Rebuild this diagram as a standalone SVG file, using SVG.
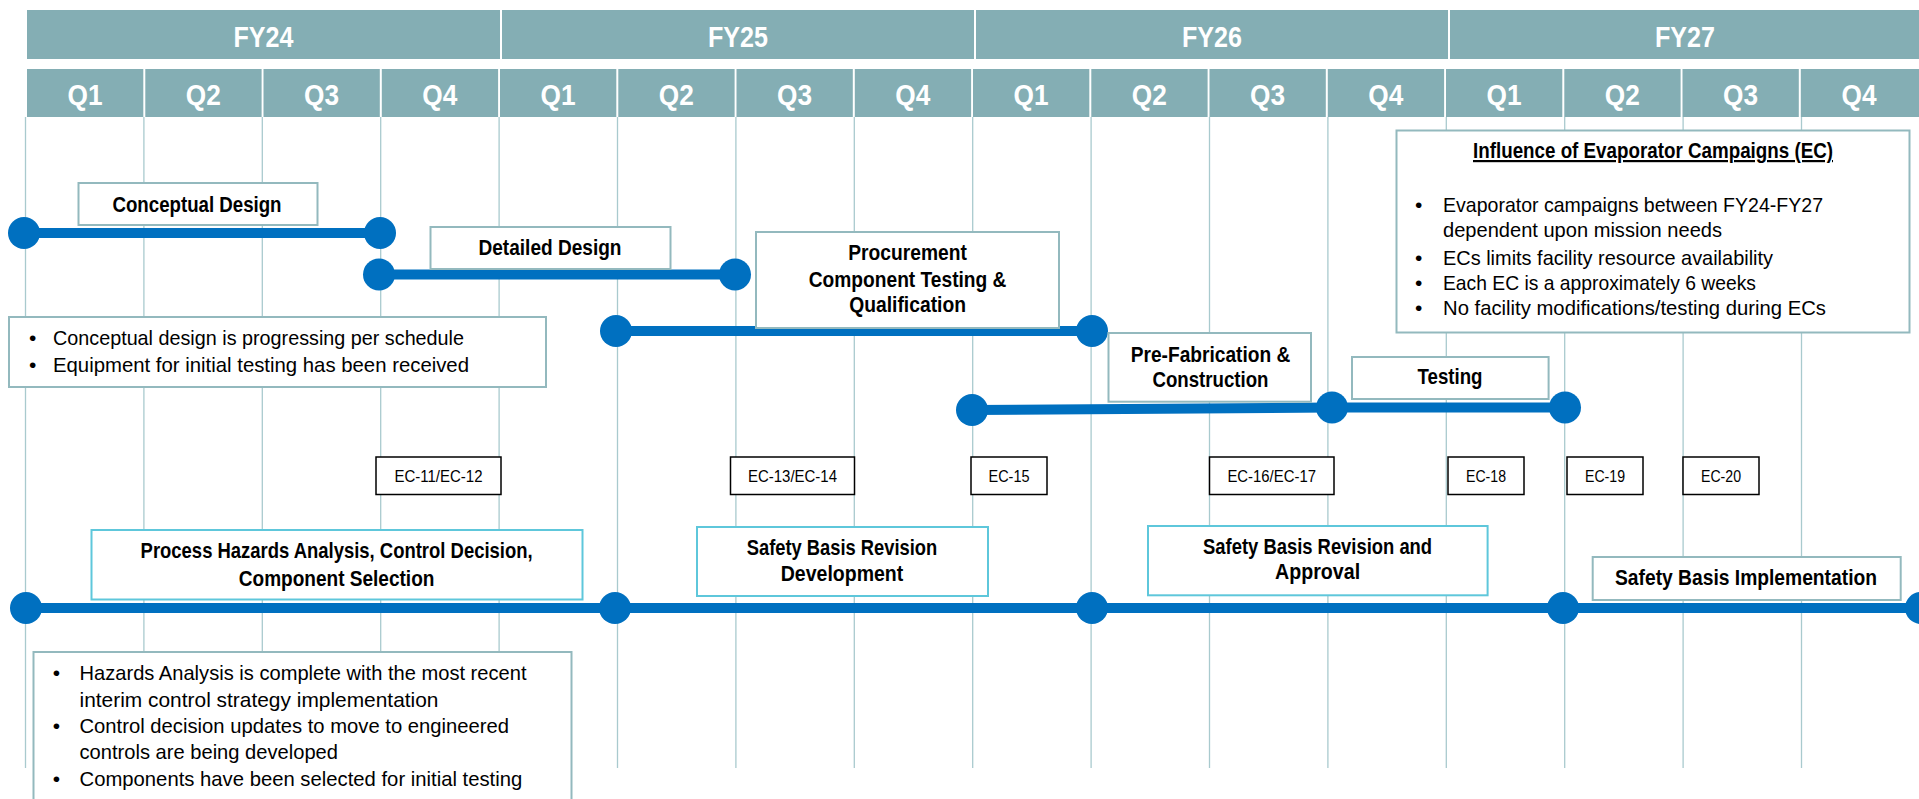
<svg xmlns="http://www.w3.org/2000/svg" width="1919" height="799" viewBox="0 0 1919 799">
  <style>
    .hdr { fill: #84AEB4; }
    .fy { font-family: "Liberation Sans", Arial, sans-serif; font-weight: bold; font-size: 29px; fill: #ffffff; text-anchor: middle; }
    .q { font-family: "Liberation Sans", Arial, sans-serif; font-weight: bold; font-size: 29px; fill: #ffffff; text-anchor: middle; }
    .grid line { stroke: #A9CACE; stroke-width: 1.3; }
    .bar { stroke: #0070C0; stroke-width: 10; fill: none; }
    .dot { fill: #0070C0; }
    .box { fill: #ffffff; stroke: #93B9BE; stroke-width: 2; }
    .sbox { fill: #ffffff; stroke: #5EC7DB; stroke-width: 2; }
    .ec { fill: #ffffff; stroke: #000000; stroke-width: 1.5; }
    .lbl { font-family: "Liberation Sans", Arial, sans-serif; font-weight: bold; font-size: 22px; fill: #000000; text-anchor: middle; }
    .txt { font-family: "Liberation Sans", Arial, sans-serif; font-size: 21px; fill: #000000; }
    .ect { font-family: "Liberation Sans", Arial, sans-serif; font-size: 16px; fill: #000000; text-anchor: middle; }
  </style>

  <rect width="1919" height="799" fill="#ffffff"/>

  <!-- Fiscal year / quarter header -->
  <g id="header">
    <rect class="hdr" x="27" y="10" width="473" height="49"/>
    <rect class="hdr" x="502" y="10" width="472" height="49"/>
    <rect class="hdr" x="976" y="10" width="472" height="49"/>
    <rect class="hdr" x="1450" y="10" width="469" height="49"/>
    <text class="fy" x="263.5" y="47" textLength="60" lengthAdjust="spacingAndGlyphs">FY24</text>
    <text class="fy" x="738" y="47" textLength="60" lengthAdjust="spacingAndGlyphs">FY25</text>
    <text class="fy" x="1212" y="47" textLength="60" lengthAdjust="spacingAndGlyphs">FY26</text>
    <text class="fy" x="1685" y="47" textLength="60" lengthAdjust="spacingAndGlyphs">FY27</text>

    <rect class="hdr" x="27" y="69" width="116.3" height="48"/>
    <rect class="hdr" x="145.3" y="69" width="116.3" height="48"/>
    <rect class="hdr" x="263.5" y="69" width="116.3" height="48"/>
    <rect class="hdr" x="381.8" y="69" width="116.3" height="48"/>
    <rect class="hdr" x="500" y="69" width="116.3" height="48"/>
    <rect class="hdr" x="618.3" y="69" width="116.3" height="48"/>
    <rect class="hdr" x="736.5" y="69" width="116.3" height="48"/>
    <rect class="hdr" x="854.8" y="69" width="116.3" height="48"/>
    <rect class="hdr" x="973" y="69" width="116.3" height="48"/>
    <rect class="hdr" x="1091.3" y="69" width="116.3" height="48"/>
    <rect class="hdr" x="1209.5" y="69" width="116.3" height="48"/>
    <rect class="hdr" x="1327.8" y="69" width="116.3" height="48"/>
    <rect class="hdr" x="1446" y="69" width="116.3" height="48"/>
    <rect class="hdr" x="1564.3" y="69" width="116.3" height="48"/>
    <rect class="hdr" x="1682.5" y="69" width="116.3" height="48"/>
    <rect class="hdr" x="1800.8" y="69" width="118.2" height="48"/>
    <text class="q" x="85" y="105" textLength="35" lengthAdjust="spacingAndGlyphs">Q1</text>
    <text class="q" x="203.3" y="105" textLength="35" lengthAdjust="spacingAndGlyphs">Q2</text>
    <text class="q" x="321.5" y="105" textLength="35" lengthAdjust="spacingAndGlyphs">Q3</text>
    <text class="q" x="439.8" y="105" textLength="35" lengthAdjust="spacingAndGlyphs">Q4</text>
    <text class="q" x="558" y="105" textLength="35" lengthAdjust="spacingAndGlyphs">Q1</text>
    <text class="q" x="676.3" y="105" textLength="35" lengthAdjust="spacingAndGlyphs">Q2</text>
    <text class="q" x="794.5" y="105" textLength="35" lengthAdjust="spacingAndGlyphs">Q3</text>
    <text class="q" x="912.8" y="105" textLength="35" lengthAdjust="spacingAndGlyphs">Q4</text>
    <text class="q" x="1031" y="105" textLength="35" lengthAdjust="spacingAndGlyphs">Q1</text>
    <text class="q" x="1149.3" y="105" textLength="35" lengthAdjust="spacingAndGlyphs">Q2</text>
    <text class="q" x="1267.5" y="105" textLength="35" lengthAdjust="spacingAndGlyphs">Q3</text>
    <text class="q" x="1385.8" y="105" textLength="35" lengthAdjust="spacingAndGlyphs">Q4</text>
    <text class="q" x="1504" y="105" textLength="35" lengthAdjust="spacingAndGlyphs">Q1</text>
    <text class="q" x="1622.3" y="105" textLength="35" lengthAdjust="spacingAndGlyphs">Q2</text>
    <text class="q" x="1740.5" y="105" textLength="35" lengthAdjust="spacingAndGlyphs">Q3</text>
    <text class="q" x="1859" y="105" textLength="35" lengthAdjust="spacingAndGlyphs">Q4</text>
  </g>

  <!-- Quarter grid lines -->
  <g class="grid" id="grid">
    <line x1="25.5" y1="117" x2="25.5" y2="768"/>
    <line x1="143.9" y1="117" x2="143.9" y2="768"/>
    <line x1="262.3" y1="117" x2="262.3" y2="768"/>
    <line x1="380.7" y1="117" x2="380.7" y2="768"/>
    <line x1="499.1" y1="117" x2="499.1" y2="768"/>
    <line x1="617.5" y1="117" x2="617.5" y2="768"/>
    <line x1="735.9" y1="117" x2="735.9" y2="768"/>
    <line x1="854.3" y1="117" x2="854.3" y2="768"/>
    <line x1="972.7" y1="117" x2="972.7" y2="768"/>
    <line x1="1091.1" y1="117" x2="1091.1" y2="768"/>
    <line x1="1209.5" y1="117" x2="1209.5" y2="768"/>
    <line x1="1327.9" y1="117" x2="1327.9" y2="768"/>
    <line x1="1446.3" y1="117" x2="1446.3" y2="768"/>
    <line x1="1564.7" y1="117" x2="1564.7" y2="768"/>
    <line x1="1683.1" y1="117" x2="1683.1" y2="768"/>
    <line x1="1801.5" y1="117" x2="1801.5" y2="768"/>
  </g>

  <!-- Schedule bars with milestone dots -->
  <g id="connectors">
    <line class="bar" x1="24" y1="233" x2="380" y2="233"/>
    <line class="bar" x1="379" y1="274.5" x2="735" y2="274.5"/>
    <line class="bar" x1="616" y1="331" x2="1092" y2="331"/>
    <line class="bar" x1="972" y1="410" x2="1332" y2="407.5"/>
    <line class="bar" x1="1332" y1="407.5" x2="1565" y2="407.5"/>
    <line class="bar" x1="26" y1="608" x2="1919" y2="608"/>
    <circle class="dot" cx="24" cy="233" r="16"/>
    <circle class="dot" cx="380" cy="233" r="16"/>
    <circle class="dot" cx="379" cy="274.5" r="16"/>
    <circle class="dot" cx="735" cy="274.5" r="16"/>
    <circle class="dot" cx="616" cy="331" r="16"/>
    <circle class="dot" cx="1092" cy="331" r="16"/>
    <circle class="dot" cx="972" cy="410" r="16"/>
    <circle class="dot" cx="1332" cy="407.5" r="16"/>
    <circle class="dot" cx="1565" cy="407.5" r="16"/>
    <circle class="dot" cx="26" cy="608" r="16"/>
    <circle class="dot" cx="615" cy="608" r="16"/>
    <circle class="dot" cx="1092" cy="608" r="16"/>
    <circle class="dot" cx="1563" cy="608" r="16"/>
    <circle class="dot" cx="1921" cy="608" r="16"/>
  </g>

  <g id="conceptual-design">
    <rect class="box" x="78.5" y="183" width="239" height="42"/>
    <text class="lbl" x="197" y="211.5" textLength="169" lengthAdjust="spacingAndGlyphs">Conceptual Design</text>
  </g>

  <g id="detailed-design">
    <rect class="box" x="430.5" y="227" width="240" height="42"/>
    <text class="lbl" x="550" y="255" textLength="143" lengthAdjust="spacingAndGlyphs">Detailed Design</text>
  </g>

  <g id="conceptual-notes">
    <rect class="box" x="9" y="317" width="537" height="70"/>
    <text class="txt" x="29" y="345">•</text>
    <text class="txt" x="53" y="345" textLength="411" lengthAdjust="spacingAndGlyphs">Conceptual design is progressing per schedule</text>
    <text class="txt" x="29" y="372">•</text>
    <text class="txt" x="53" y="372" textLength="416" lengthAdjust="spacingAndGlyphs">Equipment for initial testing has been received</text>
  </g>

  <g id="procurement">
    <rect class="box" x="756" y="232" width="303" height="96"/>
    <text class="lbl" x="907.6" y="260" textLength="118.6" lengthAdjust="spacingAndGlyphs">Procurement</text>
    <text class="lbl" x="907.6" y="287" textLength="197.7" lengthAdjust="spacingAndGlyphs">Component Testing &amp;</text>
    <text class="lbl" x="907.6" y="312" textLength="116.7" lengthAdjust="spacingAndGlyphs">Qualification</text>
  </g>

  <g id="pre-fabrication">
    <rect class="box" x="1108.5" y="333" width="202.5" height="68.7"/>
    <text class="lbl" x="1210.5" y="361.7" textLength="159.5" lengthAdjust="spacingAndGlyphs">Pre-Fabrication &amp;</text>
    <text class="lbl" x="1210.5" y="386.7" textLength="116" lengthAdjust="spacingAndGlyphs">Construction</text>
  </g>

  <g id="testing">
    <rect class="box" x="1352" y="357" width="196.6" height="42"/>
    <text class="lbl" x="1450" y="384" textLength="65" lengthAdjust="spacingAndGlyphs">Testing</text>
  </g>

  <g id="ec-influence">
    <rect class="box" x="1396.5" y="130.5" width="513" height="202"/>
    <text class="lbl" x="1653" y="158" textLength="360" lengthAdjust="spacingAndGlyphs" text-decoration="underline">Influence of Evaporator Campaigns (EC)</text>
    <text class="txt" x="1415" y="212">•</text>
    <text class="txt" x="1443" y="212" textLength="380" lengthAdjust="spacingAndGlyphs">Evaporator campaigns between FY24-FY27</text>
    <text class="txt" x="1443" y="237" textLength="279" lengthAdjust="spacingAndGlyphs">dependent upon mission needs</text>
    <text class="txt" x="1415" y="265">•</text>
    <text class="txt" x="1443" y="265" textLength="330" lengthAdjust="spacingAndGlyphs">ECs limits facility resource availability</text>
    <text class="txt" x="1415" y="290">•</text>
    <text class="txt" x="1443" y="290" textLength="313" lengthAdjust="spacingAndGlyphs">Each EC is a approximately 6 weeks</text>
    <text class="txt" x="1415" y="315">•</text>
    <text class="txt" x="1443" y="315" textLength="383" lengthAdjust="spacingAndGlyphs">No facility modifications/testing during ECs</text>
  </g>

  <!-- Evaporator campaign markers -->
  <g id="ec-11-12">
    <rect class="ec" x="376" y="457" width="125" height="37.5"/>
    <text class="ect" x="438.5" y="481.5" textLength="88" lengthAdjust="spacingAndGlyphs">EC-11/EC-12</text>
  </g>
  <g id="ec-13-14">
    <rect class="ec" x="730.5" y="457" width="124" height="37.5"/>
    <text class="ect" x="792.5" y="481.5" textLength="89" lengthAdjust="spacingAndGlyphs">EC-13/EC-14</text>
  </g>
  <g id="ec-15">
    <rect class="ec" x="971" y="457" width="76" height="37.5"/>
    <text class="ect" x="1009" y="481.5" textLength="41" lengthAdjust="spacingAndGlyphs">EC-15</text>
  </g>
  <g id="ec-16-17">
    <rect class="ec" x="1209.5" y="457" width="124.5" height="37.5"/>
    <text class="ect" x="1271.7" y="481.5" textLength="88.5" lengthAdjust="spacingAndGlyphs">EC-16/EC-17</text>
  </g>
  <g id="ec-18">
    <rect class="ec" x="1448" y="457" width="76" height="37.5"/>
    <text class="ect" x="1486" y="481.5" textLength="40" lengthAdjust="spacingAndGlyphs">EC-18</text>
  </g>
  <g id="ec-19">
    <rect class="ec" x="1567" y="457" width="76" height="37.5"/>
    <text class="ect" x="1605" y="481.5" textLength="40" lengthAdjust="spacingAndGlyphs">EC-19</text>
  </g>
  <g id="ec-20">
    <rect class="ec" x="1683" y="457" width="76" height="37.5"/>
    <text class="ect" x="1721" y="481.5" textLength="40" lengthAdjust="spacingAndGlyphs">EC-20</text>
  </g>

  <g id="process-hazards">
    <rect class="sbox" x="91.5" y="530" width="491" height="69.5"/>
    <text class="lbl" x="336.6" y="558" textLength="392" lengthAdjust="spacingAndGlyphs">Process Hazards Analysis, Control Decision,</text>
    <text class="lbl" x="336.6" y="585.7" textLength="195.6" lengthAdjust="spacingAndGlyphs">Component Selection</text>
  </g>

  <g id="safety-basis-development">
    <rect class="sbox" x="697" y="527" width="291" height="69"/>
    <text class="lbl" x="842" y="555" textLength="190.4" lengthAdjust="spacingAndGlyphs">Safety Basis Revision</text>
    <text class="lbl" x="842" y="580.7" textLength="122.5" lengthAdjust="spacingAndGlyphs">Development</text>
  </g>

  <g id="safety-basis-approval">
    <rect class="sbox" x="1148" y="526" width="339.6" height="69.3"/>
    <text class="lbl" x="1317.6" y="554" textLength="229" lengthAdjust="spacingAndGlyphs">Safety Basis Revision and</text>
    <text class="lbl" x="1317.6" y="579" textLength="85" lengthAdjust="spacingAndGlyphs">Approval</text>
  </g>

  <g id="safety-basis-implementation">
    <rect class="box" x="1592.7" y="557" width="308" height="43"/>
    <text class="lbl" x="1746" y="585" textLength="262" lengthAdjust="spacingAndGlyphs">Safety Basis Implementation</text>
  </g>

  <g id="hazards-notes">
    <rect class="box" x="33.5" y="652" width="538" height="170"/>
    <text class="txt" x="52.7" y="680">•</text>
    <text class="txt" x="79.5" y="680" textLength="447" lengthAdjust="spacingAndGlyphs">Hazards Analysis is complete with the most recent</text>
    <text class="txt" x="79.5" y="706.7" textLength="359" lengthAdjust="spacingAndGlyphs">interim control strategy implementation</text>
    <text class="txt" x="52.7" y="732.7">•</text>
    <text class="txt" x="79.5" y="732.7" textLength="429.5" lengthAdjust="spacingAndGlyphs">Control decision updates to move to engineered</text>
    <text class="txt" x="79.5" y="759" textLength="258.5" lengthAdjust="spacingAndGlyphs">controls are being developed</text>
    <text class="txt" x="52.7" y="786">•</text>
    <text class="txt" x="79.5" y="786" textLength="442.8" lengthAdjust="spacingAndGlyphs">Components have been selected for initial testing</text>
  </g>
</svg>
